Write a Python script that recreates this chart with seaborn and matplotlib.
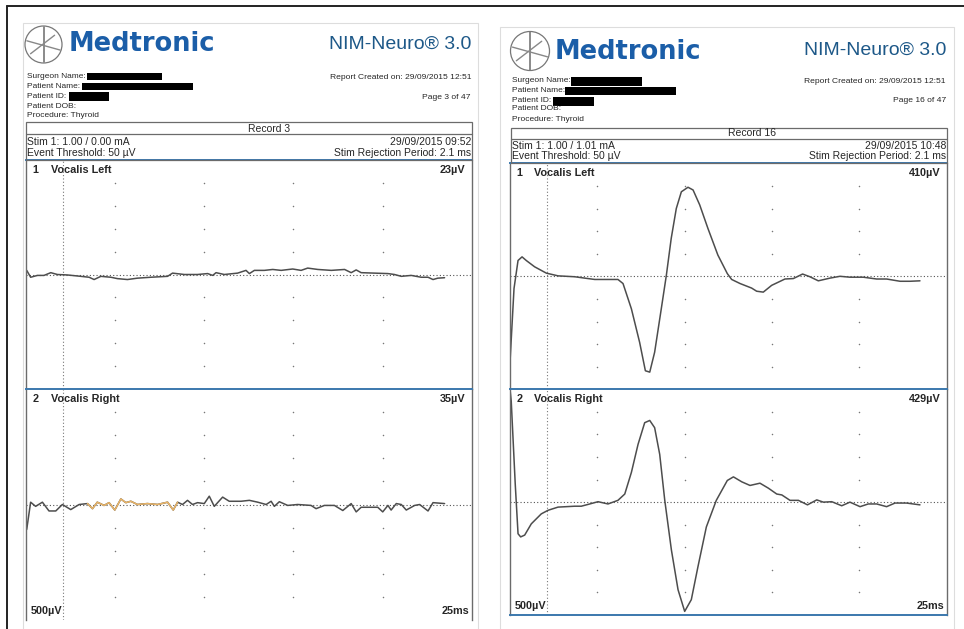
import numpy as np
import pandas as pd
import matplotlib.pyplot as plt
import matplotlib.patches as mpatches
import seaborn as sns

sns.set_style("white")
plt.rcParams['font.family'] = ['Liberation Sans', 'DejaVu Sans']

# ---- data read off the two report pages ----
# time in ms, amplitude in microvolts
rec3_left_t = [0.04, 0.26, 0.64, 1.01, 1.39, 1.76, 2.32, 3.07, 3.54, 3.82, 4.2, 4.76, 5.13, 5.69,
               6.25, 7.0, 7.94, 8.22, 8.88, 9.62, 10.19, 10.47, 10.66, 11.12, 11.87, 12.34, 12.53,
               12.81, 13.37, 13.84, 14.31, 14.96, 15.43, 15.8, 16.37, 17.12, 17.87, 18.24, 18.52,
               18.8, 19.55, 20.3, 20.67, 21.05, 21.61, 22.17, 22.55, 22.83, 23.1, 23.48]
rec3_left_v = [9, -6, -2, -2, 4, 0, -1, -4, -6, -11, -4, -6, -9, -11,
               -8, -6, -4, 3, 0, 0, 2, -2, 4, 0, 3, 9, 2,
               9, 9, 11, 9, 12, 9, 14, 11, 9, 11, 4, 10,
               4, 3, 2, 0, -4, -2, -6, -6, -11, -8, -7]

rec3_right_t = [0.04, 0.26, 0.54, 0.92, 1.29, 1.67, 2.04, 2.51, 2.98, 3.45, 3.73, 4.0, 4.38, 4.66,
                4.98, 5.32, 5.6, 5.88, 6.25, 6.81, 7.38, 7.94, 8.26, 8.5, 8.78, 9.06, 9.34, 9.62,
                10.0, 10.28, 10.56, 11.03, 11.4, 12.06, 12.53, 13.0, 13.47, 13.75, 13.93, 14.21,
                14.68, 15.24, 15.99, 16.27, 16.74, 17.3, 17.77, 18.24, 18.52, 18.8, 19.36, 19.73,
                20.01, 20.3, 20.48, 20.77, 21.05, 21.33, 21.8, 22.08, 22.55, 22.83, 23.48]
rec3_right_v = [-54, 5, -4, 5, -14, -14, 0, -11, 0, 2, -9, 5, -2, 4,
                -12, 12, 4, 7, 0, 2, 0, 5, -12, 5, 0, 9, 0, 4,
                2, 18, -4, 16, 7, 7, 9, 5, 0, 7, -4, 6,
                -2, 0, -2, -9, -2, -2, -13, 2, -16, -6, -6, -6,
                -16, -2, -12, 2, 0, -12, -2, 0, -14, 4, 2]

rec16_left_t = [0.0, 0.23, 0.46, 0.69, 0.93, 1.41, 2.08, 2.75, 3.7, 4.85, 5.6, 6.18, 6.47, 6.95,
                7.42, 7.75, 8.0, 8.28, 8.66, 8.95, 9.23, 9.52, 9.81, 10.19, 10.48, 10.86, 11.33,
                11.9, 12.44, 12.69, 13.17, 13.83, 14.12, 14.5, 14.98, 15.74, 16.22, 16.75, 17.17,
                17.65, 18.32, 18.89, 19.46, 20.23, 20.99, 21.56, 22.33, 22.9, 23.47]
rec16_left_v = [-190, -27, 35, 43, 35, 21, 7, 1, -1, -7, -7, -7, -16, -72,
                -146, -209, -212, -168, -72, 2, 84, 150, 187, 197, 191, 158, 106,
                47, 6, -7, -16, -26, -33, -35, -20, -6, -5, 5, -1,
                -10, -4, 0, -2, -2, -6, -6, -11, -11, -10]

rec16_right_t = [0.0, 0.07, 0.3, 0.46, 0.61, 0.84, 1.22, 1.79, 2.18, 2.75, 3.7, 4.08, 4.47, 5.04,
                 5.61, 6.18, 6.57, 6.95, 7.33, 7.71, 8.0, 8.28, 8.57, 8.86, 9.24, 9.62, 10.0,
                 10.38, 10.76, 11.24, 11.81, 12.44, 12.79, 13.27, 13.74, 14.31, 14.79, 15.27,
                 15.56, 16.03, 16.51, 17.03, 17.56, 17.94, 18.42, 18.99, 19.46, 20.04, 20.51,
                 20.99, 21.56, 22.04, 22.7, 23.47]
rec16_right_v = [250, 224, 40, -70, -77, -73, -48, -26, -18, -11, -9, -9, -5, 1,
                 -4, 4, 18, 66, 128, 176, 181, 165, 106, 4, -106, -194, -242,
                 -216, -143, -55, 4, 48, 56, 45, 37, 42, 31, 18,
                 16, 4, 4, -6, 5, 0, 1, -8, 0, -10, -4,
                 -4, -10, -2, -2, -6]

grid_ms = [5, 10, 15, 20]
grid_uv = [-200, -150, -100, -50, 50, 100, 150, 200]
stim_rejection_ms = 2.1
event_window_ms = (3.45, 8.5)

W, H = 964, 629
fig = plt.figure(figsize=(W / 100, H / 100), dpi=100)
fig.patch.set_facecolor('white')

BLUE = '#3b78ad'
TRACE = '#4d4d4d'
EDGE = '#6b6b6b'


def fx(x):
    return x / W


def fy(y):
    return 1 - y / H


def txt(x, y, s, **kw):
    kw.setdefault('va', 'center')
    fig.text(fx(x), fy(y), s, **kw)


def rect(x0, y0, x1, y1, **kw):
    fig.add_artist(mpatches.Rectangle((fx(x0), fy(y1)), fx(x1) - fx(x0), fy(y0) - fy(y1),
                                      transform=fig.transFigure, **kw))


def hline(x0, x1, y, **kw):
    fig.add_artist(plt.Line2D([fx(x0), fx(x1)], [fy(y), fy(y)], transform=fig.transFigure, **kw))


def vline(x, y0, y1, **kw):
    fig.add_artist(plt.Line2D([fx(x), fx(x)], [fy(y0), fy(y1)], transform=fig.transFigure, **kw))


def logo(cx, cy, r):
    fig.add_artist(mpatches.Ellipse((fx(cx), fy(cy)), 2 * r / W, 2 * r / H, transform=fig.transFigure,
                                    fill=False, ec='#777777', lw=0.9))
    vline(cx, cy - r * 0.95, cy + r * 0.95, color='#777777', lw=1.2)
    fig.add_artist(plt.Line2D([fx(cx - r * 0.9), fx(cx + r * 0.9)], [fy(cy - r * 0.2), fy(cy + r * 0.3)],
                              transform=fig.transFigure, color='#888888', lw=1.0))
    fig.add_artist(plt.Line2D([fx(cx - r * 0.7), fx(cx + r * 0.6)], [fy(cy + r * 0.5), fy(cy - r * 0.5)],
                              transform=fig.transFigure, color='#888888', lw=1.0))


def panel(box, t, v, label, num, amp, bottom_text, bottom_spine, hi=None):
    x0, y0, x1, y1 = box
    ax = fig.add_axes([fx(x0), fy(y1), fx(x1) - fx(x0), fy(y0) - fy(y1)])
    ax.set_xlim(0, 25)
    ax.set_ylim(-250, 250)
    gx, gy = np.meshgrid(grid_ms, grid_uv)
    ax.plot(gx.ravel(), gy.ravel(), ls='none', marker='o', ms=1.1, mew=0, color='#777777')
    ax.axhline(0, color='#555555', lw=0.8, ls=(0, (1, 2)))
    ax.axvline(stim_rejection_ms, color='#777777', lw=0.8, ls=(0, (1, 2)))
    df = pd.DataFrame({'t': t, 'v': v})
    sns.lineplot(data=df, x='t', y='v', ax=ax, color=TRACE, lw=1.1, sort=False, estimator=None)
    if hi is not None:
        seg = df[(df.t >= hi[0]) & (df.t <= hi[1])]
        sns.lineplot(data=seg, x='t', y='v', ax=ax, color='#e9b466', lw=1.1, sort=False, estimator=None)
    ax.set_xticks([])
    ax.set_yticks([])
    ax.set_xlabel('')
    ax.set_ylabel('')
    for s in ['left', 'right']:
        ax.spines[s].set_color(EDGE)
        ax.spines[s].set_linewidth(1.0)
    ax.spines['top'].set_color(BLUE)
    ax.spines['top'].set_linewidth(1.4)
    ax.spines['bottom'].set_visible(bottom_spine)
    ax.spines['bottom'].set_color(BLUE)
    ax.spines['bottom'].set_linewidth(1.4)
    ax.text(0.015, 0.955, num, transform=ax.transAxes, fontsize=7.8, fontweight='bold', va='center')
    ax.text(0.055, 0.955, label, transform=ax.transAxes, fontsize=7.8, fontweight='bold', va='center')
    ax.text(0.985, 0.955, amp, transform=ax.transAxes, fontsize=7.8, fontweight='bold', va='center', ha='right')
    if bottom_text:
        ax.text(0.01, 0.04, '500µV', transform=ax.transAxes, fontsize=7.8, fontweight='bold', va='center')
        ax.text(0.995, 0.04, '25ms', transform=ax.transAxes, fontsize=7.8, fontweight='bold', va='center', ha='right')
    return ax


# outer frame and page edges
hline(7, W, 6, color='#222222', lw=1.4)
vline(7, 6, H, color='#222222', lw=1.4)
rect(23, 23, 478, 640, fill=False, ec='#dddddd', lw=0.8)
rect(500, 27, 954, 640, fill=False, ec='#dddddd', lw=0.8)


def page(o):
    logo(o['lx'], o['ly'], o['lr'])
    txt(o['mx'], o['my'], 'Medtronic', fontsize=18.5, fontweight='bold', color='#1b5ea8',
        family='DejaVu Sans')
    txt(o['right'], o['ny'], 'NIM-Neuro® 3.0', fontsize=14, color='#1d5888', ha='right')
    fields = ['Surgeon Name:', 'Patient Name:', 'Patient ID:', 'Patient DOB:', 'Procedure: Thyroid']
    for f, yy in zip(fields, o['fy']):
        txt(o['left'] + 1, yy, f, fontsize=6.0)
    for bx in o['boxes']:
        rect(*bx, color='black', lw=0)
    txt(o['right'], o['fy'][0] + 0.5, 'Report Created on: 29/09/2015 12:51', fontsize=6.1, ha='right')
    txt(o['right'], o['fy'][2] + 0.5, o['page'], fontsize=6.1, ha='right')
    rect(o['left'], o['rt'], o['right'] + 1, o['pt'], fill=False, ec=EDGE, lw=0.9)
    hline(o['left'], o['right'] + 1, o['rd'], color=EDGE, lw=0.9)
    txt((o['left'] + o['right']) / 2, (o['rt'] + o['rd']) / 2 + 0.5, o['record'], fontsize=7.5)
    txt(o['left'] + 1, o['s1'], o['stim'], fontsize=7.5)
    txt(o['right'], o['s1'], o['date'], fontsize=7.5, ha='right')
    txt(o['left'] + 1, o['s2'], 'Event Threshold: 50 µV', fontsize=7.5)
    txt(o['right'], o['s2'], 'Stim Rejection Period: 2.1 ms', fontsize=7.5, ha='right')


left_page = dict(lx=43.5, ly=44.5, lr=18.5, mx=69, my=44, ny=44, left=26, right=471,
                 fy=[76.7, 86.7, 96.7, 106, 115.7],
                 boxes=[(87, 73.5, 162, 80), (82, 83, 193, 90), (69, 92, 109, 100.5)],
                 page='Page 3 of 47', rt=122, rd=134, pt=160, s1=141.7, s2=153.3,
                 record='Record 3', stim='Stim 1: 1.00 / 0.00 mA', date='29/09/2015 09:52')
right_page = dict(lx=530, ly=51, lr=19.5, mx=555, my=52, ny=50.5, left=510.5, right=946,
                  fy=[80.7, 90.7, 100, 109, 119],
                  boxes=[(571, 77, 641.7, 86), (565, 87, 676, 95), (552.7, 97, 594, 106)],
                  page='Page 16 of 47', rt=127.5, rd=138.5, pt=163.3, s1=145.7, s2=156,
                  record='Record 16', stim='Stim 1: 1.00 / 1.01 mA', date='29/09/2015 10:48')
page(left_page)
page(right_page)

panel((26, 160, 471.7, 389), rec3_left_t, rec3_left_v, 'Vocalis Left', '1', '23µV', False, False)
panel((26, 389, 471.7, 620), rec3_right_t, rec3_right_v, 'Vocalis Right', '2', '35µV', True, False,
      hi=event_window_ms)
panel((510, 163.3, 946.7, 389.3), rec16_left_t, rec16_left_v, 'Vocalis Left', '1', '410µV', False, False)
panel((510, 389.3, 946.7, 615), rec16_right_t, rec16_right_v, 'Vocalis Right', '2', '429µV', True, True)

plt.savefig('out.png', dpi=100, facecolor='white')
